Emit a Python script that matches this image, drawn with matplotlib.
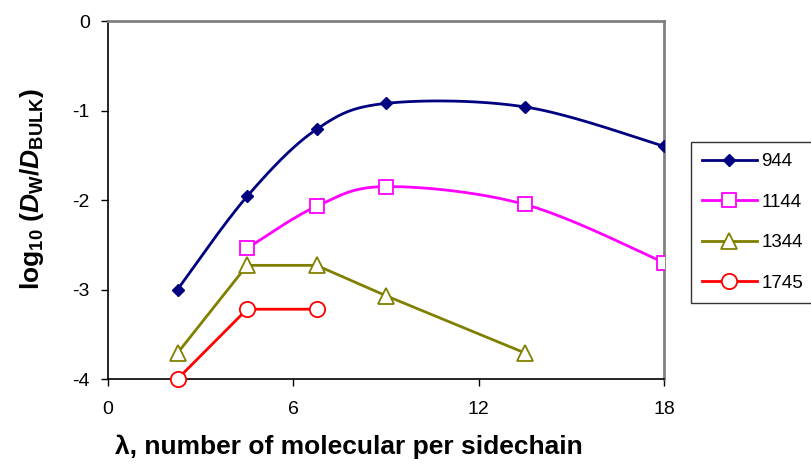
import numpy as np
import matplotlib.pyplot as plt

plt.rcParams['font.family'] = ['Liberation Sans', 'DejaVu Sans']
plt.rcParams['axes.unicode_minus'] = False
plt.rcParams['mathtext.fontset'] = 'custom'
plt.rcParams['mathtext.rm'] = 'Liberation Sans:bold'
plt.rcParams['mathtext.it'] = 'Liberation Sans:bold:italic'
plt.rcParams['mathtext.bf'] = 'Liberation Sans:bold'

# ---- Data ------------------------------------------------------------
lam_944 = [2.25, 4.5, 6.75, 9, 13.5, 18]
d_944 = [-3.0, -1.96, -1.21, -0.92, -0.96, -1.40]

lam_1144 = [4.5, 6.75, 9, 13.5, 18]
d_1144 = [-2.54, -2.07, -1.85, -2.05, -2.70]

lam_1344 = [2.25, 4.5, 6.75, 9, 13.5]
d_1344 = [-3.71, -2.73, -2.73, -3.07, -3.71]

lam_1745 = [2.25, 4.5, 6.75]
d_1745 = [-4.0, -3.22, -3.22]

x_ticks = [0, 6, 12, 18]
y_ticks = [0, -1, -2, -3, -4]


def smooth(xs, ys, n=40):
    """Catmull-Rom style cubic Bezier through the points (spreadsheet 'smoothed line')."""
    p = np.column_stack([xs, ys]).astype(float)
    ext = np.vstack([p[0], p, p[-1]])
    out = []
    t = np.linspace(0, 1, n)[:, None]
    for i in range(1, len(ext) - 2):
        p0, p1, p2, p3 = ext[i - 1], ext[i], ext[i + 1], ext[i + 2]
        c1 = p1 + (p2 - p0) / 6
        c2 = p2 - (p3 - p1) / 6
        seg = ((1 - t) ** 3) * p1 + 3 * ((1 - t) ** 2) * t * c1 \
            + 3 * (1 - t) * t ** 2 * c2 + t ** 3 * p2
        out.append(seg if i == 1 else seg[1:])
    out = np.vstack(out)
    return out[:, 0], out[:, 1]


fig = plt.figure(figsize=(8.12, 4.67), dpi=100)
ax = fig.add_axes([0.133, 0.1884, 0.685, 0.7666])

lw = 2.0
navy, magenta, olive, red = '#000080', '#FF00FF', '#808000', '#FF0000'

sx, sy = smooth(lam_944, d_944)
ax.plot(sx, sy, color=navy, lw=lw, zorder=2)
ax.plot(lam_944, d_944, ls='none', marker='D', ms=6.5, color=navy, zorder=3)
ax.plot([], [], color=navy, lw=lw, marker='D', ms=6.5, label='944')

sx, sy = smooth(lam_1144, d_1144)
ax.plot(sx, sy, color=magenta, lw=lw, zorder=2)
ax.plot(lam_1144, d_1144, ls='none', marker='s', ms=10, mfc='white',
        mec=magenta, mew=1.3, zorder=3)
ax.plot([], [], color=magenta, lw=lw, marker='s', ms=10, mfc='white',
        mec=magenta, mew=1.3, label='1144')

ax.plot(lam_1344, d_1344, color=olive, lw=lw, marker='^', ms=11, mfc='white',
        mec=olive, mew=1.3, label='1344', zorder=3)
ax.plot(lam_1745, d_1745, color=red, lw=lw, marker='o', ms=11, mfc='white',
        mec=red, mew=1.3, label='1745', zorder=3, clip_on=False)

ax.set_xlim(0, 18)
ax.set_ylim(-4, 0)
ax.set_xticks(x_ticks)
ax.set_yticks(y_ticks)
ax.tick_params(labelsize=14, direction='out', length=5, width=1)
ax.tick_params(axis='x', pad=11)
ax.tick_params(axis='y', pad=8)

for side in ('left', 'bottom'):
    ax.spines[side].set_color('black')
    ax.spines[side].set_linewidth(1.2)
for side in ('top', 'right'):
    ax.spines[side].set_color('#808080')
    ax.spines[side].set_linewidth(2)

ax.set_xlabel('λ, number of molecular per sidechain', fontsize=19,
              fontweight='bold')
ax.xaxis.set_label_coords(0.433, -0.155)
ax.set_ylabel(r'log$_{10}$ ($D_{\mathrm{W}}$/$D_{\mathrm{BULK}}$)', fontsize=19,
              fontweight='bold')
ax.yaxis.set_label_coords(-0.112, 0.53)

leg = fig.legend(loc='upper left', bbox_to_anchor=(0.851, 0.696), fontsize=13.5,
                 frameon=True, fancybox=False, edgecolor='black',
                 handlelength=2.9, handletextpad=0.25, labelspacing=1.25,
                 borderpad=0.6, borderaxespad=0)
leg.get_frame().set_linewidth(1)

fig.savefig('out.png', dpi=100)
